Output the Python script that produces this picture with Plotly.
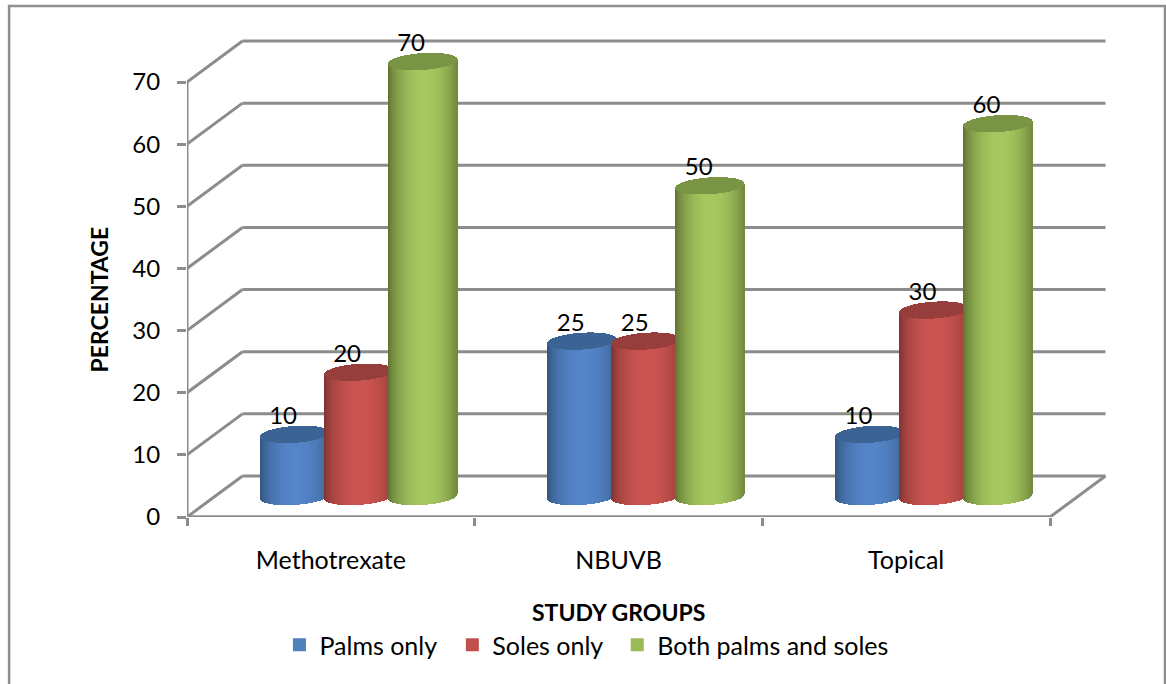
import numpy as np
import plotly.graph_objects as go

# ---- data ----
groups = ["Methotrexate", "NBUVB", "Topical"]
palms_only = [10, 25, 10]
soles_only = [20, 25, 30]
both_palms_and_soles = [70, 50, 60]
series_names = ["Palms only", "Soles only", "Both palms and soles"]
y_ticks = [0, 10, 20, 30, 40, 50, 60, 70]

# ---- canvas and scale ----
W, H = 1166, 684
LEFT, RIGHT, TOP, BOTTOM = 186.5, 1110.0, 36.0, 517.0
PX_X = (1050.0 - LEFT) / 3          # pixels per category
PX_Y = 435.0 / 70                   # pixels per percentage point
DEPTH_X = 55.5 / PX_X               # floor depth in category units
DEPTH_Y = 41.0 / PX_Y               # floor depth in value units
x_max = (RIGHT - LEFT) / PX_X
y_max = (BOTTOM - TOP) / PX_Y

GREY = "#8c8c8c"
TEXT = "#000000"
FONT = "Lato"
LABEL_SIZE = 25
VALUE_SIZE = 24
TITLE_SIZE = 23

# ---- cylinder geometry ----
SPACING = 64.0 / PX_X
RADIUS = 34.25 / PX_X
CAP_H = 8.4 / PX_Y
CAP_TILT = 2.2 / PX_Y
STRIP = 1.0 / PX_X

edge_rgb = [(50, 82, 125), (125, 50, 48), (90, 110, 46)]
mid_rgb = [(84, 133, 200), (204, 84, 80), (166, 199, 96)]
cap_rgb = [(59, 100, 148), (149, 62, 60), (122, 148, 70)]


def rgb(c):
    return "rgb(%d,%d,%d)" % tuple(int(round(v)) for v in c)


def shade(t, edge, mid):
    # t runs from -1 to 1 across the cylinder; brightest just right of centre
    u = np.clip(1 - ((t - 0.06) / 1.06) ** 2, 0, 1) ** 0.75
    return rgb([e + (m - e) * u for e, m in zip(edge, mid)])


def px_x(p):
    return (p - LEFT) / (RIGHT - LEFT)


def px_y(p):
    return (BOTTOM - p) / (BOTTOM - TOP)


fig = go.Figure()

# Gridlines, floor and wall lines sit beneath the cylinders
shapes = []


def seg(x0, y0, x1, y1, width=3, color=GREY):
    shapes.append(dict(type="line", xref="x", yref="y", x0=x0, y0=y0, x1=x1, y1=y1,
                       layer="below", line=dict(color=color, width=width)))


for v in y_ticks:
    seg(DEPTH_X, v + DEPTH_Y, 3 + DEPTH_X, v + DEPTH_Y)
    seg(0, v, DEPTH_X, v + DEPTH_Y)
seg(3, 0, 3 + DEPTH_X, DEPTH_Y)
seg(0, 0, 0, max(y_ticks))
seg(0, 0, 3, 0, width=3.5)
# Outer frame, open along the bottom edge and running off the page
shapes.append(dict(type="path", xref="paper", yref="paper",
                   path="M %f,%f L %f,%f L %f,%f L %f,%f" % (
                       px_x(8.5), px_y(700), px_x(8.5), px_y(6),
                       px_x(1165), px_y(6), px_x(1165), px_y(700)),
                   line=dict(color="#8f8f8f", width=2.5), layer="below"))

all_values = [palms_only, soles_only, both_palms_and_soles]

# Cylinders: each one is a run of one-pixel strips so the body can carry shading
for s, values in enumerate(all_values):
    bx, bbase, bh, bc = [], [], [], []
    cx, cbase, ch = [], [], []
    for i, val in enumerate(values):
        xc = i + 0.5 + (s - 1) * SPACING + DEPTH_X / 2
        floor = DEPTH_Y / 2
        for x in np.arange(xc - RADIUS, xc + RADIUS, STRIP):
            t = (x + STRIP / 2 - xc) / RADIUS
            half = CAP_H * np.sqrt(max(1 - t * t, 0))
            skew = CAP_TILT * t
            bot = floor + skew - half
            bx.append(x + STRIP / 2)
            bbase.append(bot)
            bh.append(val + skew + floor - bot)
            bc.append(shade(t, edge_rgb[s], mid_rgb[s]))
            cx.append(x + STRIP / 2)
            cbase.append(val + floor + skew - half)
            ch.append(2 * half)
    fig.add_trace(go.Bar(x=bx, y=bh, base=bbase, width=STRIP * 1.15,
                         marker=dict(color=bc, line=dict(width=0)),
                         showlegend=False, hoverinfo="skip"))
    fig.add_trace(go.Bar(x=cx, y=ch, base=cbase, width=STRIP * 1.15,
                         marker=dict(color=rgb(cap_rgb[s]), line=dict(width=0)),
                         showlegend=False, hoverinfo="skip"))

# Value labels above each cylinder
lx, ly, lt = [], [], []
for s, values in enumerate(all_values):
    for i, val in enumerate(values):
        lx.append(i + 0.5 + (s - 1) * SPACING + DEPTH_X / 2 - 11.5 / PX_X)
        ly.append(val + DEPTH_Y / 2 + 16.5 / PX_Y)
        lt.append(str(val))
fig.add_trace(go.Scatter(x=lx, y=ly, text=lt, mode="text", textposition="middle center",
                         textfont=dict(family=FONT, size=VALUE_SIZE, color=TEXT),
                         cliponaxis=False, showlegend=False, hoverinfo="skip"))

# Legend entries: one small legend per series so each can be placed on its own
legend_colors = ["#4f81bd", "#c0504d", "#9bbb59"]
legend_ids = ["legend", "legend2", "legend3"]
legend_left = [279, 452, 617]
legend_layout = {}
for name, col, lid, left in zip(series_names, legend_colors, legend_ids, legend_left):
    fig.add_trace(go.Scatter(x=[None], y=[None], mode="markers", name=name, legend=lid,
                             marker=dict(symbol="square", size=13, color=col)))
    legend_layout[lid] = dict(orientation="h", x=px_x(left), xanchor="left",
                              y=px_y(622), yanchor="top",
                              font=dict(family=FONT, size=LABEL_SIZE, color=TEXT),
                              bgcolor="rgba(0,0,0,0)",
                              itemclick=False, itemdoubleclick=False)

fig.update_layout(
    width=W, height=H, autosize=False,
    margin=dict(l=LEFT, r=W - RIGHT, t=TOP, b=H - BOTTOM, pad=0),
    paper_bgcolor="white", plot_bgcolor="white",
    barmode="overlay", bargap=0,
    font=dict(family=FONT, size=LABEL_SIZE, color=TEXT),
    shapes=shapes,
    showlegend=True,
    xaxis=dict(range=[0, x_max], tickmode="array", tickvals=[0.5, 1.5, 2.5], ticktext=groups,
               showgrid=False, zeroline=False, showline=False, ticks="", ticklen=0,
               ticklabelstandoff=26, tickfont=dict(family=FONT, size=LABEL_SIZE, color=TEXT),
               minor=dict(tickmode="array", tickvals=[0, 1, 2, 3], ticks="outside",
                          ticklen=8, tickwidth=3, tickcolor=GREY, showgrid=False)),
    yaxis=dict(range=[0, y_max], tickmode="array", tickvals=y_ticks,
               showgrid=False, zeroline=False, showline=False, ticks="outside",
               ticklen=9, tickwidth=3, tickcolor=GREY, ticklabelstandoff=12,
               tickfont=dict(family=FONT, size=VALUE_SIZE, color=TEXT)),
    annotations=[
        dict(text="<b>STUDY GROUPS</b>", xref="paper", yref="paper", showarrow=False,
             x=px_x(618), y=px_y(612), xanchor="center", yanchor="middle",
             font=dict(family=FONT, size=TITLE_SIZE, color=TEXT)),
        dict(text="<b>PERCENTAGE</b>", xref="paper", yref="paper", showarrow=False, textangle=-90,
             x=px_x(98), y=px_y(300), xanchor="center", yanchor="middle",
             font=dict(family=FONT, size=TITLE_SIZE, color=TEXT)),
    ],
    **legend_layout,
)

fig.write_html("out.html", config=dict(displayModeBar=False))
